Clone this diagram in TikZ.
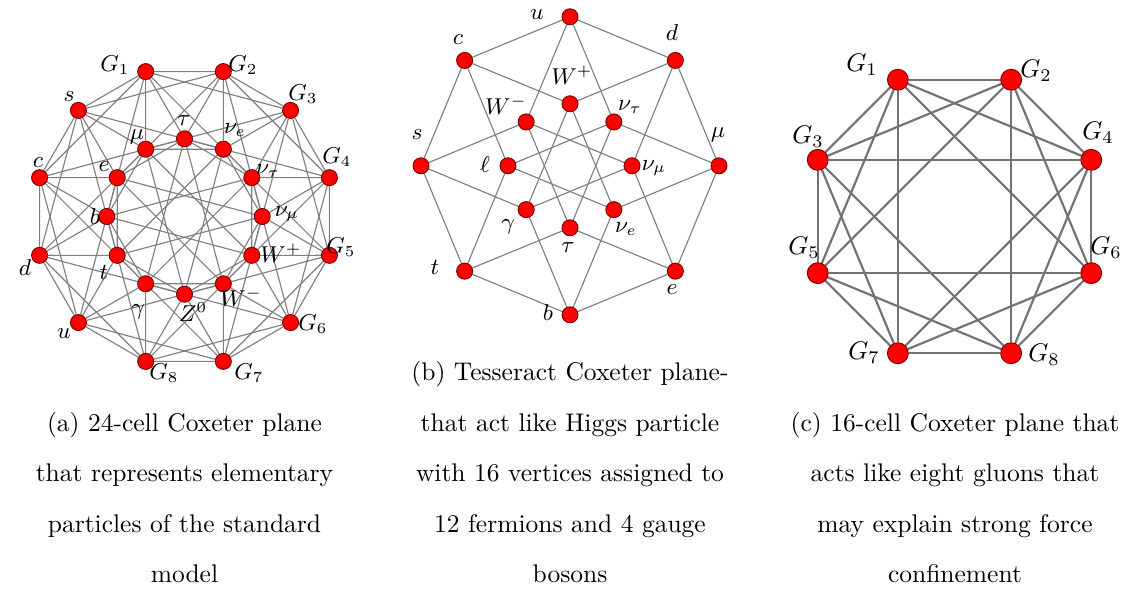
\documentclass[tikz,border=0pt]{standalone}
\usetikzlibrary{calc,backgrounds}
\begin{document}
\begin{tikzpicture}[x=0.392pt,y=-0.392pt,
  vtx/.style={circle,fill=red,draw=red!45!black,line width=0.35pt,inner sep=0pt,minimum size=6.3pt},
  bigvtx/.style={vtx,minimum size=8.2pt},
  edg/.style={draw=black!50,line width=0.45pt},
  thickedg/.style={draw=black!55,line width=0.85pt},
  lab/.style={font=\small,inner sep=0pt},
  captext/.style={align=center,inner sep=0pt,anchor=base,font=\fontsize{10}{19.8}\selectfont}]
\useasboundingbox (0,0) rectangle (1137,604);

\coordinate (ca) at (184.5,216.5);
\foreach \k in {0,...,11}{
  \node[vtx] (ao\k) at ($(ca)+({-15-30*\k}:150)$) {};
  \node[vtx] (ai\k) at ($(ca)+({-30*\k}:77.7)$) {};
}
\begin{scope}[on background layer]
\foreach \k in {0,...,11}{
  \pgfmathtruncatemacro\ka{mod(\k+1,12)}
  \pgfmathtruncatemacro\kb{mod(\k+2,12)}
  \pgfmathtruncatemacro\kc{mod(\k+5,12)}
  \pgfmathtruncatemacro\kd{mod(\k+11,12)}
  \pgfmathtruncatemacro\ke{mod(\k+9,12)}
  \draw[edg] (ao\k) -- (ao\ka) (ao\k) -- (ao\kb) (ai\k) -- (ai\kb) (ai\k) -- (ai\kc)
    (ai\k) -- (ao\k) (ai\k) -- (ao\kd) (ai\k) -- (ao\kb) (ai\k) -- (ao\ke);
}
\end{scope}
\node[lab] (la-g1) at (115,65) {$G_1$};
\node[lab] (la-g2) at (243,65) {$G_2$};
\node[lab] (la-g3) at (303,94) {$G_3$};
\node[lab] (la-g4) at (337,157) {$G_4$};
\node[lab] (la-g5) at (341,247) {$G_5$};
\node[lab] (la-g6) at (313,324) {$G_6$};
\node[lab] (la-g7) at (249,373) {$G_7$};
\node[lab] (la-g8) at (164,373) {$G_8$};
\node[lab] (la-u) at (64,334) {$u$};
\node[lab] (la-d) at (25,268) {$d$};
\node[lab] (la-c) at (38,163) {$c$};
\node[lab] (la-s) at (69,97) {$s$};
\node[lab] (la-tau) at (184,121) {$\tau$};
\node[lab] (la-mu) at (137,137) {$\mu$};
\node[lab] (la-nue) at (235,130) {$\nu_e$};
\node[lab] (la-nutau) at (268,171) {$\nu_\tau$};
\node[lab] (la-numu) at (287,214) {$\nu_\mu$};
\node[lab] (la-wp) at (281,253) {$W^+$};
\node[lab] (la-wm) at (241,297) {$W^-$};
\node[lab] (la-z) at (193,312) {$Z^0$};
\node[lab] (la-gam) at (138,312) {$\gamma$};
\node[lab] (la-t) at (104,272) {$t$};
\node[lab] (la-b) at (95,217) {$b$};
\node[lab] (la-e) at (104,167) {$e$};

\coordinate (cb) at (570,165.8);
\foreach \k in {0,...,7}{
  \node[vtx] (bo\k) at ($(cb)+({-45*\k}:149)$) {};
  \node[vtx] (bi\k) at ($(cb)+({-45*\k}:62)$) {};
}
\begin{scope}[on background layer]
\foreach \k in {0,...,7}{
  \pgfmathtruncatemacro\ka{mod(\k+1,8)}
  \pgfmathtruncatemacro\kb{mod(\k+3,8)}
  \pgfmathtruncatemacro\kc{mod(\k+7,8)}
  \draw[edg] (bo\k) -- (bo\ka) (bo\k) -- (bi\ka) (bo\k) -- (bi\kc) (bi\k) -- (bi\kb);
}
\end{scope}
\node[lab] (lb-u) at (537,15) {$u$};
\node[lab] (lb-c) at (458,40) {$c$};
\node[lab] (lb-d) at (672,33) {$d$};
\node[lab] (lb-s) at (417,135) {$s$};
\node[lab] (lb-mu) at (718,135) {$\mu$};
\node[lab] (lb-t) at (435,267) {$t$};
\node[lab] (lb-e) at (672,290) {$e$};
\node[lab] (lb-b) at (548,313) {$b$};
\node[lab] (lb-wp) at (572,75) {$W^+$};
\node[lab] (lb-wm) at (506,105) {$W^-$};
\node[lab] (lb-nutau) at (630,107) {$\nu_\tau$};
\node[lab] (lb-ell) at (485,165) {$\ell$};
\node[lab] (lb-numu) at (654,168) {$\nu_\mu$};
\node[lab] (lb-gam) at (508,227) {$\gamma$};
\node[lab] (lb-nue) at (626,229) {$\nu_e$};
\node[lab] (lb-tau) at (568,248) {$\tau$};

\coordinate (cc) at (954.5,216.5);
\foreach \k in {0,...,7}{
  \node[bigvtx] (co\k) at ($(cc)+({-22.5-45*\k}:148)$) {};
}
\begin{scope}[on background layer]
\foreach \k in {0,...,7}{
  \foreach \j in {1,2,3}{
    \pgfmathtruncatemacro\kj{mod(\k+\j,8)}
    \draw[thickedg] (co\k) -- (co\kj);
  }
}
\end{scope}
\node[lab,font=\normalsize] (lc-g1) at (862,65) {$G_1$};
\node[lab,font=\normalsize] (lc-g2) at (1036,71) {$G_2$};
\node[lab,font=\normalsize] (lc-g3) at (808,137) {$G_3$};
\node[lab,font=\normalsize] (lc-g4) at (1098,133) {$G_4$};
\node[lab,font=\normalsize] (lc-g5) at (804,248) {$G_5$};
\node[lab,font=\normalsize] (lc-g6) at (1106,248) {$G_6$};
\node[lab,font=\normalsize] (lc-g7) at (864,353) {$G_7$};
\node[lab,font=\normalsize] (lc-g8) at (1044,355) {$G_8$};

\node[captext] (capa) at (184.5,583) {(a) 24-cell Coxeter plane\\that represents elementary\\particles of the standard\\model};
\node[captext] (capb) at (570,583) {(b) Tesseract Coxeter plane-\\that act like Higgs particle\\with 16 vertices assigned to\\12 fermions and 4 gauge\\bosons};
\node[captext] (capc) at (955,583) {(c) 16-cell Coxeter plane that\\acts like eight gluons that\\may explain strong force\\confinement};
\end{tikzpicture}
\end{document}
